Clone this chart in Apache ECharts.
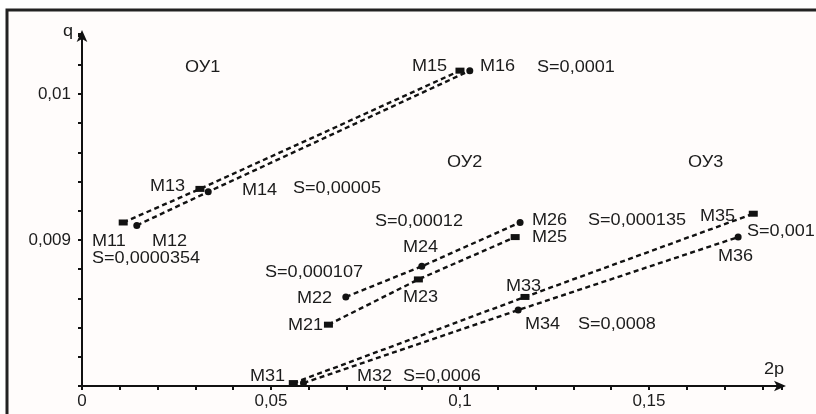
<!DOCTYPE html>
<html>
<head>
<meta charset="utf-8">
<script src="https://cdn.jsdelivr.net/npm/echarts@6/dist/echarts.min.js"></script>
<style>html,body{margin:0;padding:0;background:#fff}#c{width:816px;height:414px}</style>
</head>
<body>
<div id="c"></div>
<script>
// ---- data ----
const namesA1 = ['М11', 'М13', 'М15'];
const xA1 = [0.0109, 0.0312, 0.1000];
const yA1 = [0.00912, 0.00935, 0.01016];
const namesB1 = ['М12', 'М14', 'М16'];
const xB1 = [0.0145, 0.0334, 0.1026];
const yB1 = [0.00910, 0.00933, 0.01016];

const namesA2 = ['М21', 'М23', 'М25'];
const xA2 = [0.0652, 0.0890, 0.1146];
const yA2 = [0.00842, 0.00873, 0.00902];
const namesB2 = ['М22', 'М24', 'М26'];
const xB2 = [0.0698, 0.0899, 0.1159];
const yB2 = [0.00861, 0.00882, 0.00912];

const namesA3 = ['М31', 'М33', 'М35'];
const xA3 = [0.0559, 0.1172, 0.1776];
const yA3 = [0.00802, 0.00861, 0.00918];
const namesB3 = ['М32', 'М34', 'М36'];
const xB3 = [0.0586, 0.1154, 0.1736];
const yB3 = [0.00802, 0.00852, 0.00902];

const xTickLabels = ['0', '0,05', '0,1', '0,15'];
const yTickLabels = ['0,009', '0,01'];

// annotation texts
const groupTitles = ['ОУ1', 'ОУ2', 'ОУ3'];
const sLabels = ['S=0,0000354', 'S=0,00005', 'S=0,0001', 'S=0,000107', 'S=0,00012',
                 'S=0,000135', 'S=0,001', 'S=0,0008', 'S=0,0006'];

// ---- layout (pixel positions of annotations) ----
const FONT = '"Liberation Sans", Arial, sans-serif';
const TXT = '#1c1c1c';
const SX = 1.13;
const titlePos = [[185, 68], [447, 163], [688, 163]];
const sPos = [[92, 259], [293, 189], [537, 68], [265, 273], [375, 222],
              [588, 221], [747, 232], [578, 325], [403, 377]];
const pointLabelPos = {
  'М11': [92, 242], 'М12': [152, 242], 'М13': [150, 187], 'М14': [242, 191],
  'М15': [412, 67], 'М16': [480, 67],
  'М21': [288, 326], 'М22': [297, 299], 'М23': [403, 298], 'М24': [403, 248],
  'М25': [532, 238], 'М26': [532, 221],
  'М31': [250, 377], 'М32': [357, 377], 'М33': [506, 287], 'М34': [525, 325],
  'М35': [700, 217], 'М36': [718, 257]
};

function pairs(xs, ys) { return xs.map((x, i) => [x, ys[i]]); }

function lineSeries(name, xs, ys, symbol, size) {
  return {
    type: 'line', name: name, data: pairs(xs, ys),
    symbol: symbol, symbolSize: size, clip: false,
    lineStyle: { color: '#121212', width: 2.4, type: [5, 3.5] },
    itemStyle: { color: '#121212' },
    emphasis: { disabled: true },
    z: 3
  };
}

function txt(t, x, y, size, extra) {
  return Object.assign({
    type: 'text', x: x, y: y, scaleX: SX, silent: true,
    style: { text: t, font: size + 'px ' + FONT, fill: TXT, verticalAlign: 'middle' }
  }, extra || {});
}

const graphics = [
  { type: 'rect', z: -10, silent: true,
    shape: { x: 7, y: 10, width: 840, height: 430 },
    style: { fill: '#fffcfb', stroke: '#222', lineWidth: 3 } },
  txt('q', 63, 32, 16),
  txt('2p', 764, 370, 16)
];
groupTitles.forEach((t, i) => graphics.push(txt(t, titlePos[i][0], titlePos[i][1], 16)));
sLabels.forEach((t, i) => graphics.push(txt(t, sPos[i][0], sPos[i][1], 16)));
Object.keys(pointLabelPos).forEach(k =>
  graphics.push(txt(k, pointLabelPos[k][0], pointLabelPos[k][1], 16)));

function near(v, t) { return Math.abs(v - t) < 1e-7; }

const chart = echarts.init(document.getElementById('c'));
chart.setOption({
  backgroundColor: '#ffffff',
  animation: false,
  grid: { left: 82, top: 34, width: 700, height: 352, containLabel: false },
  xAxis: {
    type: 'value', min: 0, max: 0.1852, interval: 0.01,
    splitLine: { show: false },
    axisLine: { onZero: false, lineStyle: { color: '#111', width: 2 },
      symbol: ['none', 'arrow'], symbolSize: [8, 12], symbolOffset: [0, 4] },
    axisTick: { show: true, length: 4, lineStyle: { color: '#111', width: 2 } },
    axisLabel: {
      color: TXT, fontFamily: FONT, fontSize: 17, margin: 7,
      formatter: function (v) {
        const vals = [0, 0.05, 0.1, 0.15];
        for (let i = 0; i < vals.length; i++) if (near(v, vals[i])) return xTickLabels[i];
        return '';
      }
    }
  },
  yAxis: {
    type: 'value', min: 0.008, max: 0.010411, interval: 0.0002,
    splitLine: { show: false },
    axisLine: { onZero: false, lineStyle: { color: '#111', width: 2 },
      symbol: ['none', 'arrow'], symbolSize: [8, 12], symbolOffset: [0, 4] },
    axisTick: { show: true, length: 4, lineStyle: { color: '#111', width: 2 } },
    axisLabel: {
      color: TXT, fontFamily: FONT, fontSize: 17, margin: 11,
      formatter: function (v) {
        if (near(v, 0.009)) return yTickLabels[0];
        if (near(v, 0.01)) return yTickLabels[1];
        return '';
      }
    }
  },
  graphic: graphics,
  series: [
    lineSeries('A1', xA1, yA1, 'rect', [9, 6]),
    lineSeries('B1', xB1, yB1, 'circle', 7),
    lineSeries('A2', xA2, yA2, 'rect', [9, 6]),
    lineSeries('B2', xB2, yB2, 'circle', 7),
    lineSeries('A3', xA3, yA3, 'rect', [9, 6]),
    lineSeries('B3', xB3, yB3, 'circle', 7)
  ]
});
</script>
</body>
</html>
